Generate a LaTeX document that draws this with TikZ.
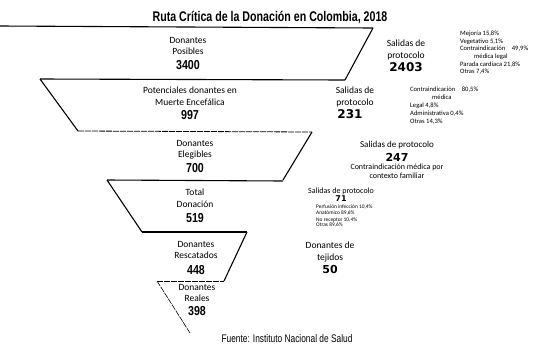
\documentclass[tikz,border=0pt]{standalone}
\usepackage{fontspec}
\usepackage{tikz}
\setmainfont{Carlito}
\newfontfamily\titlefont[FakeStretch=0.76]{Liberation Sans}
\newfontfamily\numfont[FakeStretch=0.82]{Liberation Sans}
\newfontfamily\widenum{DejaVu Sans}

\tikzset{
  lbl/.style={align=center, inner sep=0pt, font=\fontsize{9.5}{11.5}\selectfont},
  num/.style={inner sep=0pt, font=\numfont\bfseries\fontsize{13}{13}\selectfont},
  widen/.style={inner sep=0pt, font=\widenum\bfseries\fontsize{12}{12}\selectfont},
  small/.style={align=left, inner sep=0pt, font=\fontsize{6.6}{7.6}\selectfont},
  edge/.style={line width=1.1pt},
  thin edge/.style={line width=0.8pt, dash pattern=on 6pt off 1pt}
}

\begin{document}
\begin{tikzpicture}[x=1pt,y=-1pt]
\useasboundingbox (0,0) rectangle (539,349);
%\draw[step=10,gray,very thin] (0,0) grid (539,349);

\node[inner sep=0pt, font=\titlefont\bfseries\fontsize{14}{14}\selectfont] (title) at (270,17) {Ruta Crítica de la Donación en Colombia, 2018};

% funnel
\draw[edge](0,26) -- (373,28);
\draw[edge](373,28) -- (345,80);
\draw[edge](40,79) -- (345,80);
\draw[edge](40,79) -- (78,131);
\draw[thin edge](78,131) -- (312,132);
\draw[edge](312,132) -- (283,180);
\draw[edge](107,180) -- (283,181);
\draw[edge](107,180) -- (142,232);
\draw[edge](142,232) -- (247,232);
\draw[edge](247,232) -- (224,281);
\draw[thin edge](157,281) -- (224,281);
\draw[thin edge, line width=0.6pt](157,281) -- (190,333);

% stages
\node[lbl] (posibles) at (188,46) {Donantes\\Posibles};
\node[num] (nposibles) at (188,65) {3400};

\node[lbl] (potenciales) at (190,96) {Potenciales donantes en\\Muerte Encefálica};
\node[num] (npotenciales) at (190,115) {997};

\node[lbl] (elegibles) at (195,150) {Donantes\\Elegibles};
\node[num] (nelegibles) at (195,168) {700};

\node[lbl] (total) at (195,198) {Total\\Donación};
\node[num] (ntotal) at (195,218) {519};

\node[lbl] (rescatados) at (196,250) {Donantes\\Rescatados};
\node[num] (nrescatados) at (196,270) {448};

\node[lbl] (reales) at (197,293) {Donantes\\Reales};
\node[num] (nreales) at (197,311) {398};

% salidas
\node[lbl] (salida1) at (406,50) {Salidas de\\protocolo};
\node[widen] (nsalida1) at (406,67) {2403};
\node[small, anchor=north west] (causas1) at (460,31) {Mejoría 15,8\%\\Vegetativo 5,1\%\\Contraindicación\quad 49,9\%\\\hspace*{14pt}médica legal\\Parada cardiaca 21,8\%\\Otras 7,4\%};

\node[lbl] (salida2) at (355,97) {Salidas de\\protocolo};
\node[widen] (nsalida2) at (350,114) {231};
\node[small, anchor=north west] (causas2) at (410,87) {Contraindicación\quad 80,5\%\\\hspace*{22pt}médica\\[1pt]Legal 4,8\%\\Administrativa 0,4\%\\Otras 14,3\%};

\node[lbl, font=\fontsize{9}{11}\selectfont] (salida3) at (397,145) {Salidas de protocolo};
\node[widen, font=\widenum\bfseries\fontsize{11}{11}\selectfont] (nsalida3) at (397,157) {247};
\node[lbl, font=\fontsize{8}{9}\selectfont] (causas3) at (397,171) {Contraindicación médica por\\contexto familiar};

\node[lbl, font=\fontsize{8}{10}\selectfont] (salida4) at (341,191) {Salidas de protocolo};
\node[widen, font=\widenum\bfseries\fontsize{8}{8}\selectfont] (nsalida4) at (341,199) {71};
\node[small, anchor=north west, font=\fontsize{5.4}{5.6}\selectfont] (causas4) at (316,205) {Perfusión infección 10,4\%\\Anatómico 89,6\%\\[1pt]No receptor 10,4\%\\Otras 89,6\%};

\node[lbl] (tejidos) at (330,252) {Donantes de\\tejidos};
\node[widen, font=\widenum\bfseries\fontsize{11}{11}\selectfont] (ntejidos) at (330,269) {50};

\node[inner sep=0pt, font=\titlefont\fontsize{11}{11}\selectfont] (fuente) at (287,339) {Fuente: Instituto Nacional de Salud};

\end{tikzpicture}
\end{document}
